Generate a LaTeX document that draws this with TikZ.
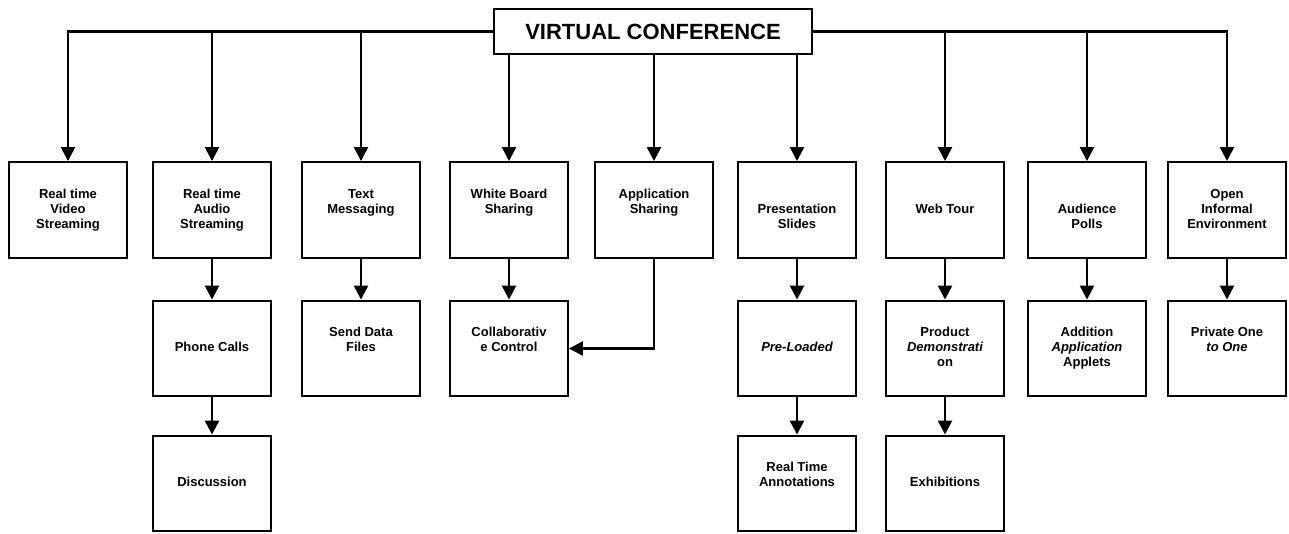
\documentclass[tikz,border=0pt]{standalone}
\usepackage{fontspec}
\setmainfont{Liberation Sans}
\usetikzlibrary{arrows.meta}
% three centred lines, each padded with a strut so every box text starts at the same height
\newcommand\threelines[3]{\strut#1\\\strut#2\\\strut#3}

\begin{document}
\begin{tikzpicture}[x=1pt,y=-1pt,
  every node/.style={inner sep=0pt},
  edge/.style={line width=2.4pt},
  arr/.style={edge,-{Triangle[width=14pt,length=14pt]}},
  cell/.style={draw,line width=2.4pt,minimum width=117.5pt,minimum height=95.5pt,
    align=center,font=\bfseries\fontsize{13}{15}\selectfont},
  head/.style={draw,line width=2.4pt,minimum width=317.5pt,minimum height=44.5pt,
    font=\bfseries\fontsize{22}{26}\selectfont}]

\fill[white] (0,0) rectangle (1289,533);
\useasboundingbox (0,0) rectangle (1289,533);

% root
\node[head] (title) at (653,31.5) {VIRTUAL CONFERENCE};

% first level
\node[cell] (b1) at (68,210)   {\threelines{Real time}{Video}{Streaming}};
\node[cell] (b2) at (212,210)  {\threelines{Real time}{Audio}{Streaming}};
\node[cell] (b3) at (361,210)  {\threelines{Text}{Messaging}{}};
\node[cell] (b4) at (509,210)  {\threelines{White Board}{Sharing}{}};
\node[cell] (b5) at (654,210)  {\threelines{Application}{Sharing}{}};
\node[cell] (b6) at (797,210)  {\threelines{}{Presentation}{Slides}};
\node[cell] (b7) at (945,210)  {\threelines{}{Web Tour}{}};
\node[cell] (b8) at (1087,210) {\threelines{}{Audience}{Polls}};
\node[cell] (b9) at (1227,210) {\threelines{Open}{Informal}{Environment}};

% second level
\node[cell] (phone)    at (212,348.5)  {\threelines{}{Phone Calls}{}};
\node[cell] (send)     at (361,348.5)  {\threelines{Send Data}{Files}{}};
\node[cell] (collab)   at (509,348.5)  {\threelines{Collaborativ}{e Control}{}};
\node[cell] (preload)  at (797,348.5)  {\threelines{}{\itshape Pre-Loaded}{}};
\node[cell] (product)  at (945,348.5)  {\threelines{Product}{\itshape Demonstrati}{on}};
\node[cell] (addition) at (1087,348.5) {\threelines{Addition}{\itshape Application}{Applets}};
\node[cell] (private)  at (1227,348.5) {\threelines{Private One}{\itshape to One}{}};

% third level
\node[cell] (discuss) at (212,483.5) {\threelines{}{Discussion}{}};
\node[cell] (annot)   at (797,483.5) {\threelines{Real Time}{Annotations}{}};
\node[cell] (exhib)   at (945,483.5) {\threelines{}{Exhibitions}{}};

% root to first level: left bus
\draw[arr] (title.west) -| (b1.north);
\draw[arr] (b2.north |- title.west) -- (b2.north);
\draw[arr] (b3.north |- title.west) -- (b3.north);
% straight down from the root
\draw[arr] (title.south -| b4.north) -- (b4.north);
\draw[arr] (title.south -| b5.north) -- (b5.north);
\draw[arr] (title.south -| b6.north) -- (b6.north);
% right bus
\draw[arr] (title.east) -| (b9.north);
\draw[arr] (b7.north |- title.east) -- (b7.north);
\draw[arr] (b8.north |- title.east) -- (b8.north);

% first to second level
\draw[arr] (b2.south) -- (phone.north);
\draw[arr] (b3.south) -- (send.north);
\draw[arr] (b4.south) -- (collab.north);
\draw[arr] (b5.south) |- (collab.east);
\draw[arr] (b6.south) -- (preload.north);
\draw[arr] (b7.south) -- (product.north);
\draw[arr] (b8.south) -- (addition.north);
\draw[arr] (b9.south) -- (private.north);

% second to third level
\draw[arr] (phone.south) -- (discuss.north);
\draw[arr] (preload.south) -- (annot.north);
\draw[arr] (product.south) -- (exhib.north);
\end{tikzpicture}
\end{document}
